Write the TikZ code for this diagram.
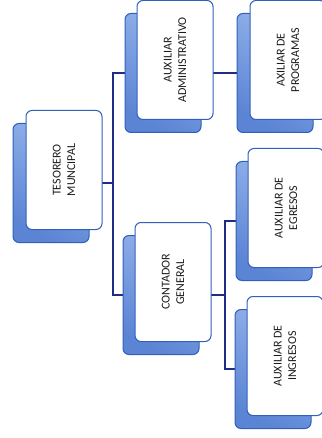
\documentclass[tikz,border=0pt]{standalone}
\usepackage{fontspec}
\setmainfont{Carlito}
\usetikzlibrary{backgrounds}
\definecolor{linkblue}{HTML}{1E2C86}
\definecolor{edgeblue}{HTML}{3060BC}
\definecolor{shadelo}{HTML}{5B84D4}
\definecolor{shadehi}{HTML}{94B3EA}
\definecolor{inkgray}{HTML}{1C1C1C}
\begin{document}
\begin{tikzpicture}[x=1pt,y=-1pt,
  link/.style={draw=linkblue,line width=1.8pt},
  card/.style={rectangle,rounded corners=6pt,draw=edgeblue,line width=1pt,
    fill=white,minimum width=119pt,minimum height=76pt,rotate=90,
    text=inkgray,align=center,font=\fontsize{12}{14.5}\selectfont,inner sep=0pt},
  backcard/.style={rectangle,rounded corners=6pt,draw=edgeblue,line width=1pt,
    top color=shadehi,bottom color=shadelo,shading angle=-30,
    minimum width=76pt,minimum height=119pt,inner sep=0pt},
]
\useasboundingbox (0,0) rectangle (321,438);

% back (shadow) cards, offset down-left
\node[backcard] (tesS)  at (51,183) {};
\node[backcard] (admS)  at (163,73) {};
\node[backcard] (progS) at (275,73) {};
\node[backcard] (contS) at (161,295) {};
\node[backcard] (egrS)  at (274,221) {};
\node[backcard] (ingS)  at (273,369) {};

% front cards
\node[card] (tes)  at (64,170)  {TESORERO\\MUNCIPAL};
\node[card] (adm)  at (175,60)  {AUXILIAR\\ADMINISTRATIVO};
\node[card] (prog) at (288,60)  {AXILIAR DE\\PROGRAMAS};
\node[card] (cont) at (173,282) {CONTADOR\\GENERAL};
\node[card] (egr)  at (286,208) {AUXILIAR DE\\EGRESOS};
\node[card] (ing)  at (285,356) {AUXILIAR DE\\INGRESOS};

% trunk positions
\coordinate (trunkA) at (113,0);
\coordinate (trunkB) at (225,0);

\begin{scope}[on background layer]
  % tesorero to its two direct reports
  \draw[link] (tes.north |- tesS.center) -- (tesS.center -| trunkA);
  \draw[link] (admS.west) -- (admS.west -| trunkA) -- (contS.west -| trunkA) -- (contS.west);
  % administrativo to programas
  \draw[link] (adm.north |- admS.center) -- (progS.west);
  % contador to egresos and ingresos
  \draw[link] (cont.north |- contS.center) -- (contS.center -| trunkB);
  \draw[link] (egrS.west) -- (egrS.west -| trunkB) -- (ingS.west -| trunkB) -- (ingS.west);
\end{scope}
\end{tikzpicture}
\end{document}
